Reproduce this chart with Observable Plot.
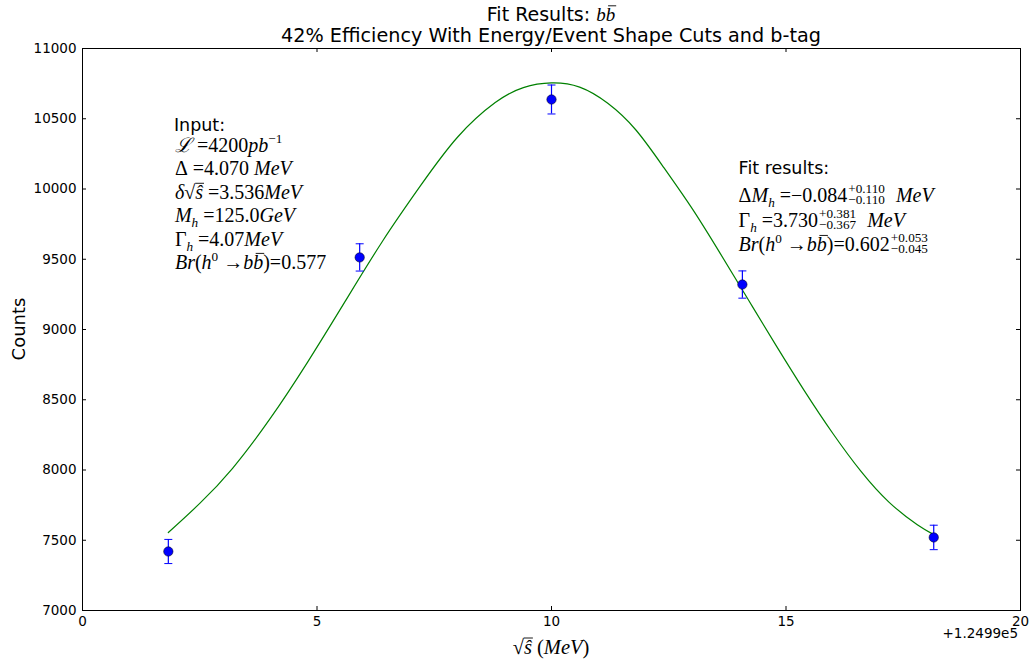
<!DOCTYPE html>
<html><head><meta charset="utf-8">
<script src="https://cdn.jsdelivr.net/npm/d3@7"></script>
<script src="https://cdn.jsdelivr.net/npm/@observablehq/plot@0.6"></script>
<style>body{margin:0;background:#fff}</style>
</head><body><div id="chart"></div>
<script>
// ---- data ----
const xs = [1.83, 5.91, 10.0, 14.07, 18.15];
const counts = [7420, 9513, 10637, 9320, 7520];
const errs = [86, 97, 103, 97, 87];
const fitX = [1.83, 2.5, 3.2, 4.0, 4.8, 5.6, 6.4, 7.2, 8.0, 8.8, 9.4, 10.0, 10.6, 11.2, 11.8, 12.4, 13.0, 13.6, 14.2, 14.8, 15.4, 16.0, 16.6, 17.2, 17.8, 18.15];
const fitY = [7555, 7762, 8012, 8365, 8768, 9200, 9630, 10020, 10370, 10615, 10722, 10755, 10725, 10610, 10420, 10150, 9860, 9540, 9210, 8880, 8560, 8260, 7990, 7770, 7610, 7540];
const xTicks = [0, 5, 10, 15, 20];
const yTicks = [7000, 7500, 8000, 8500, 9000, 9500, 10000, 10500, 11000];
const titleLine1 = "Fit Results: ";
const titleLine2 = "42% Efficiency With Energy/Event Shape Cuts and b-tag";
const yLabel = "Counts";
const offsetText = "+1.2499e5";
const inputHeader = "Input:";
const fitHeader = "Fit results:";
const inputLines = [
  [["ℒ","i"],[" =","r"],["4200","r"],["pb","i"],["−1","sup"]],
  [["Δ","r"],[" =","r"],["4.070 ","r"],["MeV","i"]],
  [["δ","i"],["√","r"],["ŝ","ov"],[" =","r"],["3.536","r"],["MeV","i"]],
  [["M","i"],["h","sub"],[" =","r"],["125.0","r"],["GeV","i"]],
  [["Γ","r"],["h","sub"],[" =","r"],["4.07","r"],["MeV","i"]],
  [["Br","i"],["(","r"],["h","i"],["0","sup"],[" →","r"],["b","i"],["b","bar"],[")","r"],["=","r"],["0.577","r"]]
];
const fitLines = [
  [["Δ","r"],["M","i"],["h","sub"],[" =","r"],["−0.084","r"],[["+0.110","−0.110"],"pm"],["  MeV","i"]],
  [["Γ","r"],["h","sub"],[" =","r"],["3.730","r"],[["+0.381","−0.367"],"pm"],["  MeV","i"]],
  [["Br","i"],["(","r"],["h","i"],["0","sup"],[" →","r"],["b","i"],["b","bar"],[")","r"],["=","r"],["0.602","r"],[["+0.053","−0.045"],"pm"]]
];

const points = xs.map((x, i) => ({x, y: counts[i], e: errs[i]}));
const curve = fitX.map((x, i) => ({x, y: fitY[i]}));

const W = 1029, H = 666, mL = 82, mR = 9, mT = 48, mB = 56;
const fw = W - mL - mR, fh = H - mT - mB, tick = 4;
const capSym = {draw(ctx, size) { const w = Math.sqrt(size / Math.PI); ctx.moveTo(-w, 0); ctx.lineTo(w, 0); }};

const plot = Plot.plot({
  width: W, height: H, marginLeft: mL, marginRight: mR, marginTop: mT, marginBottom: mB,
  style: {fontFamily: "'DejaVu Sans', sans-serif", fontSize: "13.5px", color: "black", background: "white", overflow: "visible"},
  x: {domain: [0, 20]},
  y: {domain: [7000, 11000]},
  marks: [
    Plot.ruleX(xTicks, {x: d => d, insetTop: fh - tick, stroke: "black"}),
    Plot.ruleX(xTicks, {x: d => d, insetBottom: fh - tick, stroke: "black"}),
    Plot.ruleY(yTicks, {y: d => d, insetRight: fw - tick, stroke: "black"}),
    Plot.ruleY(yTicks, {y: d => d, insetLeft: fw - tick, stroke: "black"}),
    Plot.line(curve, {x: "x", y: "y", stroke: "#008000", strokeWidth: 1.2, curve: "natural"}),
    Plot.ruleX(points, {x: "x", y1: d => d.y - d.e, y2: d => d.y + d.e, stroke: "#0000ff", strokeWidth: 1.2}),
    Plot.dot(points, {x: "x", y: d => d.y + d.e, symbol: capSym, r: 4, fill: "none", stroke: "#0000ff", strokeWidth: 1}),
    Plot.dot(points, {x: "x", y: d => d.y - d.e, symbol: capSym, r: 4, fill: "none", stroke: "#0000ff", strokeWidth: 1}),
    Plot.dot(points, {x: "x", y: "y", r: 4.7, fill: "#0000ff", stroke: "#000000", strokeWidth: 0.5}),
    Plot.frame({stroke: "black"}),
    Plot.axisX({ticks: xTicks, tickSize: 0, tickPadding: 6, label: null, tickFormat: d => String(d)}),
    Plot.axisY({ticks: yTicks, tickSize: 0, tickPadding: 6, label: null, tickFormat: d => String(d)})
  ]
});
document.getElementById("chart").appendChild(plot);

const svg = d3.select(plot);
const sx = plot.scale("x"), sy = plot.scale("y");
const SERIF = "'Liberation Serif', 'DejaVu Serif', serif";
const SANS = "'DejaVu Sans', sans-serif";

function put(g, x, y, t, size, italic, family) {
  const el = g.append("text").attr("x", x).attr("y", y)
    .attr("font-family", family || SERIF).attr("font-size", size)
    .attr("font-style", italic ? "italic" : "normal").attr("fill", "black")
    .attr("text-anchor", "start").text(t);
  return el.node().getComputedTextLength();
}
function mline(g, x, y, tokens, fs) {
  let cx = x;
  const small = fs * 0.66;
  for (const [t, k] of tokens) {
    if (k === "pm") {
      const a = put(g, cx + 1, y - fs * 0.48, t[0], small, false);
      const b = put(g, cx + 1, y + fs * 0.1, t[1], small, false);
      cx += Math.max(a, b) + 2;
      continue;
    }
    let yy = y, size = fs, it = false;
    if (k === "i" || k === "ov" || k === "bar") it = true;
    if (k === "sub") { yy = y + fs * 0.24; size = small; it = true; }
    if (k === "sup") { yy = y - fs * 0.42; size = small; }
    const w = put(g, cx, yy, t, size, it);
    if (k === "ov") g.append("line").attr("x1", cx).attr("x2", cx + w + 1).attr("y1", y - fs * 0.78).attr("y2", y - fs * 0.78).attr("stroke", "black").attr("stroke-width", 0.9);
    if (k === "bar") g.append("line").attr("x1", cx + w * 0.25).attr("x2", cx + w + 1).attr("y1", y - fs * 0.8).attr("y2", y - fs * 0.8).attr("stroke", "black").attr("stroke-width", 0.9);
    cx += w;
  }
  return cx - x;
}

// titles
const cxPlot = (mL + W - mR) / 2;
{
  const g = svg.append("g");
  let w = put(g, 0, 21, titleLine1, 19, false, SANS);
  w += mline(g, w, 21, [["b","i"],["b","bar"]], 19);
  g.attr("transform", `translate(${cxPlot - w / 2},0)`);
}
svg.append("text").attr("x", cxPlot).attr("y", 42).attr("text-anchor", "middle")
  .attr("font-family", SANS).attr("font-size", 19.2).attr("fill", "black").text(titleLine2);

// y label
svg.append("text").attr("transform", `translate(25,${mT + fh / 2}) rotate(-90)`).attr("text-anchor", "middle")
  .attr("font-family", SANS).attr("font-size", 18).attr("fill", "black").text(yLabel);

// offset text
svg.append("text").attr("x", W - mR - 2).attr("y", 638).attr("text-anchor", "end")
  .attr("font-family", SANS).attr("font-size", 13.5).attr("fill", "black").text(offsetText);

// x label
{
  const g = svg.append("g");
  const w = mline(g, 0, 654, [["√","r"],["ŝ","ov"],[" (","r"],["MeV","i"],[")","r"]], 20.5);
  g.attr("transform", `translate(${cxPlot - w / 2},0)`);
}

// Input block
{
  const x0 = sx.apply(1.96), y0 = sy.apply(10410);
  const g = svg.append("g");
  put(g, x0, y0, inputHeader, 17.5, false, SANS);
  inputLines.forEach((ln, i) => mline(g, x0 + 1, y0 + 21 + i * 23.5, ln, 20));
}
// Fit block
{
  const x0 = sx.apply(14.0), y0 = sy.apply(10100);
  const g = svg.append("g");
  put(g, x0, y0, fitHeader, 17.5, false, SANS);
  const offs = [28, 53, 77];
  fitLines.forEach((ln, i) => mline(g, x0, y0 + offs[i], ln, 20));
}
</script>
</body></html>
